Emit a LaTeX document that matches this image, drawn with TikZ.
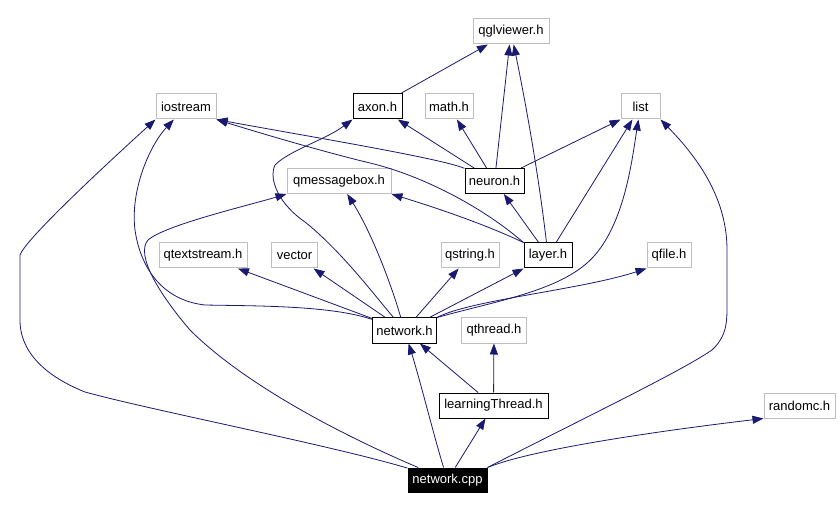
\documentclass[tikz,border=0pt]{standalone}
\usepackage{fontspec}
\setmainfont{Liberation Sans}
\usetikzlibrary{arrows.meta}
\definecolor{edgeblue}{RGB}{25,25,112}
\definecolor{boxgray}{RGB}{191,191,191}

\begin{document}
\begin{tikzpicture}[x=1pt, y=-1pt,
  hdr/.style={draw=black, line width=1pt, minimum height=25pt, inner sep=0pt, font=\fontsize{13}{15}\selectfont},
  extern/.style={hdr, draw=boxgray},
  root/.style={hdr, fill=black, text=white, minimum height=24pt},
  dep/.style={draw=edgeblue, line width=0.8pt, -{Triangle[length=11pt,width=8pt]}}]
\useasboundingbox (0,0) rectangle (840,510);

\node[extern, minimum width=76] (qglviewer) at (511,31.5) {qglviewer.h};

\node[extern, minimum width=60] (iostream) at (186,106.5) {iostream};
\node[hdr, minimum width=49] (axon) at (377.5,106.5) {axon.h};
\node[extern, minimum width=48] (math) at (449,106.5) {math.h};
\node[extern, minimum width=39] (list) at (640.5,106.5) {list};

\node[extern, minimum width=104] (qmessagebox) at (339,181) {qmessagebox.h};
\node[hdr, minimum width=59] (neuron) at (494.5,181) {neuron.h};

\node[extern, minimum width=88] (qtextstream) at (203,255.5) {qtextstream.h};
\node[extern, minimum width=46] (vector) at (294.5,255.5) {vector};
\node[extern, minimum width=58] (qstring) at (470,255.5) {qstring.h};
\node[hdr, minimum width=48] (layer) at (548,255.5) {layer.h};
\node[extern, minimum width=44] (qfile) at (669,255.5) {qfile.h};

\node[hdr, minimum width=64] (networkh) at (404.5,330.5) {network.h};
\node[extern, minimum width=65] (qthread) at (494,330.5) {qthread.h};

\node[hdr, minimum width=109] (learning) at (493.5,405.5) {learningThread.h};
\node[extern, minimum width=71] (randomc) at (799.5,405.5) {randomc.h};

\node[root, minimum width=79] (networkcpp) at (447.5,480) {network.cpp};

% axon.h, neuron.h
\draw[dep] (axon) -- (qglviewer);
\draw[dep] (neuron) -- (qglviewer);
\draw[dep] (neuron) -- (math);
\draw[dep] (neuron) -- (axon);
\draw[dep] (neuron) .. controls (440,158) and (300,135) .. (iostream.south east);
\draw[dep] (neuron) -- (list.south west);

% layer.h
\draw[dep] (layer) .. controls (538,170) and (525,100) .. (qglviewer);
\draw[dep] (layer) -- (neuron);
\draw[dep] (layer) -- (list);
\draw[dep] (layer.north west) .. controls (480,205) and (420,175) .. (370,163)
  .. controls (320,151) and (250,130) .. (iostream.south east);
\draw[dep] (layer.north west) .. controls (480,222) and (430,206) .. (qmessagebox.south east);

% network.h
\draw[dep] (networkh) -- (qtextstream);
\draw[dep] (networkh) -- (vector);
\draw[dep] (networkh) -- (qstring);
\draw[dep] (networkh) -- (layer.south west);
\draw[dep] (networkh.north east) .. controls (470,300) and (580,290) .. (qfile.south west);
\draw[dep] (networkh) .. controls (390,280) and (370,230) .. (qmessagebox);
\draw[dep] (networkh.north east) .. controls (500,300) and (565,290) .. (595,255)
  .. controls (625,220) and (632,160) .. (list);
\draw[dep] (networkh) .. controls (372,292) and (340,250) .. (305,222)
  .. controls (280,205) and (268,180) .. (275,165)
  .. controls (290,150) and (325,140) .. (axon.south west);
\draw[dep] (networkh) .. controls (330,305) and (250,306) .. (205,305)
  .. controls (160,300) and (140,265) .. (135,230)
  .. controls (130,190) and (150,145) .. (iostream);

% learningThread.h
\draw[dep] (learning) -- (networkh);
\draw[dep] (learning) -- (qthread);

% network.cpp
\draw[dep] (networkcpp) .. controls (435,440) and (420,380) .. (networkh);
\draw[dep] (networkcpp) -- (learning);
\draw[dep] (networkcpp.north east) .. controls (530,450) and (650,432) .. (randomc.south west);
\draw[dep] (networkcpp.north east) .. controls (580,420) and (680,372) .. (712,350)
  .. controls (728,335) and (727,320) .. (727,300) -- (727,250)
  .. controls (727,200) and (700,160) .. (list.south east);
\draw[dep] (networkcpp) .. controls (330,445) and (150,410) .. (85,392)
  .. controls (50,378) and (20,355) .. (20,320) -- (20,255)
  .. controls (25,240) and (100,170) .. (iostream.south west);
\draw[dep] (networkcpp) .. controls (330,430) and (240,380) .. (190,330)
  .. controls (160,295) and (135,255) .. (148,240)
  .. controls (165,225) and (250,205) .. (qmessagebox.south west);

\end{tikzpicture}
\end{document}
